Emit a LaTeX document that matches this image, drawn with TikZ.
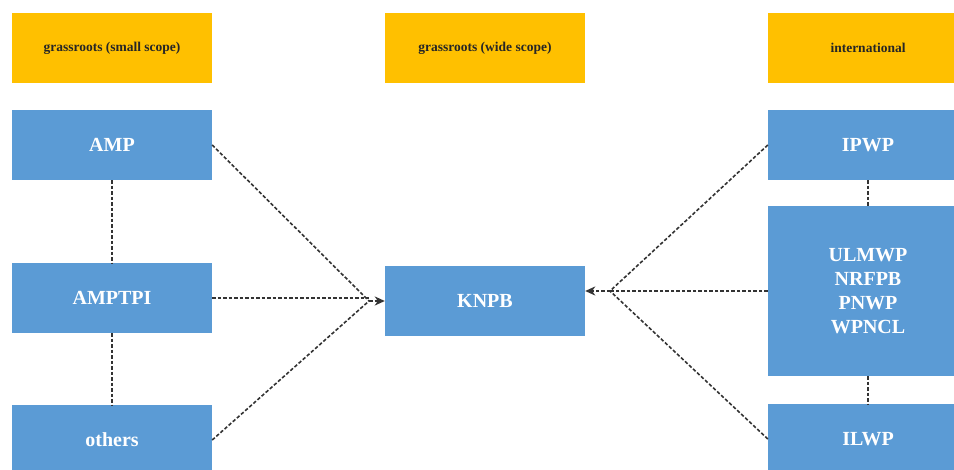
\documentclass[tikz,border=0pt]{standalone}
\usepackage{fontspec}
\setmainfont{Liberation Serif}
\usetikzlibrary{arrows.meta}
\definecolor{hdr}{HTML}{FFC000}
\definecolor{boxblue}{HTML}{5B9BD5}
\tikzset{
  hdrbox/.style={fill=hdr, minimum width=200pt, minimum height=70pt, inner sep=0pt,
    font=\fontsize{13.5}{16}\selectfont\bfseries, text=black!85},
  orgbox/.style={fill=boxblue, minimum width=200pt, minimum height=70pt, inner sep=0pt,
    font=\fontsize{20}{24}\selectfont\bfseries, text=white, align=center},
  link/.style={draw=black!80, line width=1.6pt, dash pattern=on 3.5pt off 2pt},
  arr/.style={link, -{Stealth[length=10pt,width=9pt,inset=3pt]}}
}
\begin{document}
\begin{tikzpicture}[x=1pt,y=-1pt]
\clip (0,0) rectangle (954,470);
\fill[white] (0,0) rectangle (954,470);
% headers
\node[hdrbox] (h1) at (112,48) {grassroots (small scope)};
\node[hdrbox] (h2) at (485,48) {grassroots (wide scope)};
\node[hdrbox] (h3) at (868,48) {international};
% left column
\node[orgbox] (amp) at (112,145) {AMP};
\node[orgbox] (amptpi) at (112,298) {AMPTPI};
\node[orgbox] (others) at (112,440) {others};
% middle
\node[orgbox] (knpb) at (485,301) {KNPB};
% right column
\node[orgbox] (ipwp) at (868,145) {IPWP};
\node[orgbox, minimum height=170pt] (ulmwp) at (868,291) {ULMWP\\NRFPB\\PNWP\\WPNCL};
\node[orgbox] (ilwp) at (868,439) {ILWP};
% convergence points
\coordinate (cl) at (369,301);
\coordinate (cr) at (610,291);
% vertical links
\draw[link] (amp.south) -- (amptpi.north);
\draw[link] (amptpi.south) -- (others.north);
\draw[link] (ipwp.south) -- (ulmwp.north);
\draw[link] (ulmwp.south) -- (ilwp.north);
% left links
\draw[link] (amp.east) -- (cl);
\draw[link] (others.east) -- (cl);
\draw[link] (amptpi.east) -- (amptpi.east -| cl);
\draw[arr] (cl) -- (knpb.west);
% right links
\draw[link] (ipwp.west) -- (cr);
\draw[link] (ilwp.west) -- (cr);
\draw[link] (ulmwp.west) -- (cr);
\draw[arr] (cr) -- (cr -| knpb.east);
\end{tikzpicture}
\end{document}
